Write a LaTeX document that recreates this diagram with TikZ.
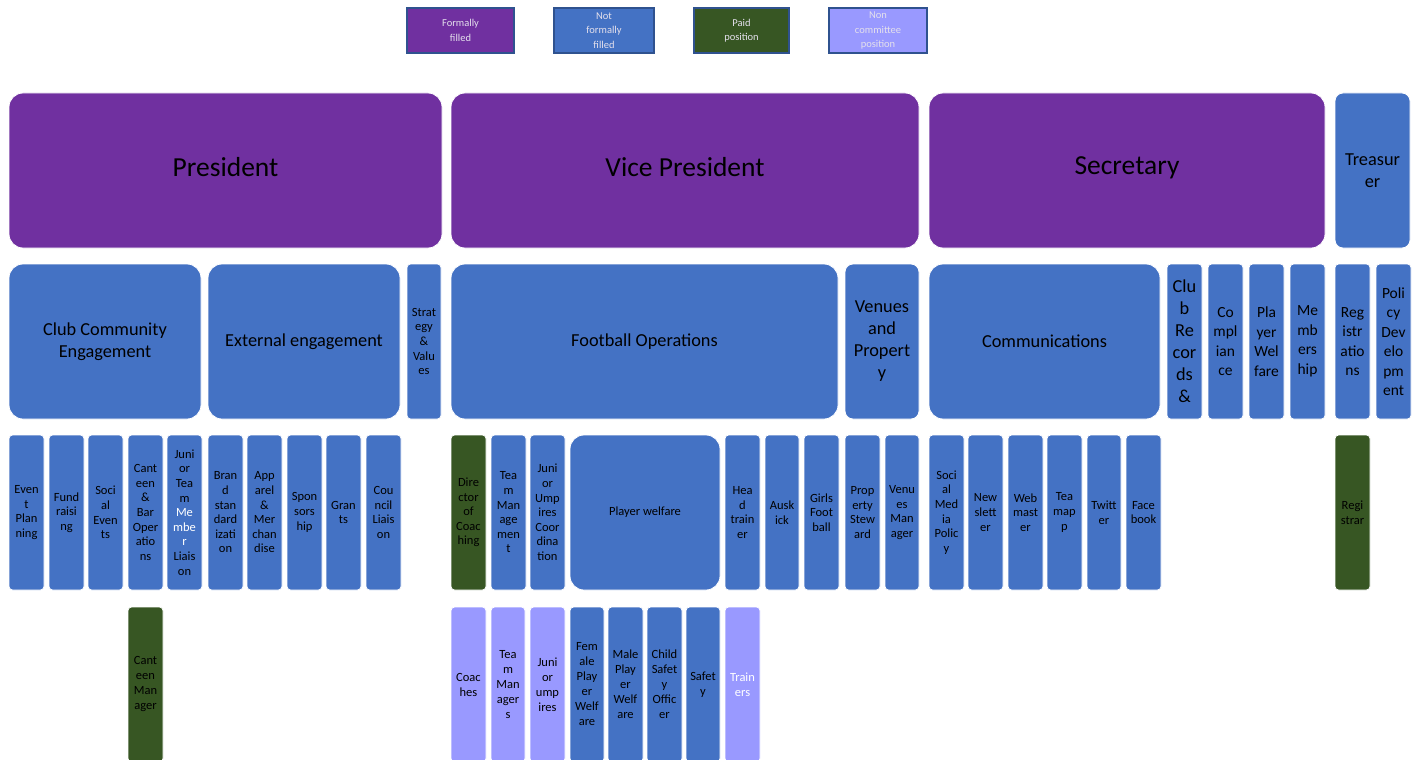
\documentclass[tikz,border=0pt]{standalone}
\usepackage{fontspec}
\setmainfont{Carlito}

\definecolor{cPurple}{HTML}{7030A0}
\definecolor{cBlue}{HTML}{4472C4}
\definecolor{cGreen}{HTML}{375623}
\definecolor{cLav}{HTML}{9999FF}
\definecolor{cEdge}{HTML}{2F528F}
\definecolor{cLegText}{HTML}{E4E0EC}

% box from (x1,y1) to (x2,y2): name, x1, y1, x2, y2, style, text
\newcommand\orgbox[7]{%
  \node[#6, minimum width={#4-#2}, minimum height={#5-#3}]
    (#1) at ({(#2+#4)/2},{(#3+#5)/2}) {#7};}
% title text sits a little above the box centre
\newcommand\titletext[1]{\raisebox{3pt}[\height][\depth]{#1}}

\tikzset{
  base/.style={rectangle, draw=white, line width=0.8pt, inner sep=0pt,
               align=center, text=black},
  pu/.style={base, fill=cPurple},
  bl/.style={base, fill=cBlue},
  gr/.style={base, fill=cGreen},
  lv/.style={base, fill=cLav},
  big/.style={rounded corners=14pt},
  mid/.style={rounded corners=8pt},
  sml/.style={rounded corners=3.5pt},
  fA/.style={font=\fontsize{27.5}{33}\selectfont},
  fB/.style={font=\fontsize{18.3}{22}\selectfont},
  fC/.style={font=\fontsize{15.5}{19.5}\selectfont},
  fD/.style={font=\fontsize{12.5}{14.6}\selectfont},
  fE/.style={font=\fontsize{12.5}{15}\selectfont},
  leg/.style={rectangle, draw=cEdge, line width=2pt, inner sep=0pt,
              align=center, text=cLegText,
              font=\fontsize{10.5}{14.5}\selectfont},
}

\begin{document}
\begin{tikzpicture}[x=1pt, y=-1pt]
\useasboundingbox (0,0) rectangle (1417,760);

% legend
\orgbox{kF}{407}{8}{514}{53}{leg, fill=cPurple}{Formally\\filled}
\orgbox{kN}{554}{8}{654}{53}{leg, fill=cBlue}{Not\\formally\\filled}
\orgbox{kP}{694}{8}{789}{53}{leg, fill=cGreen}{Paid\\position}
\orgbox{kC}{829}{8}{927}{53}{leg, fill=cLav}{Non\\committee\\position}

% office bearers
\orgbox{pres}{9}{93}{442}{248}{pu, big, fA}{\titletext{President}}
\orgbox{vp}{451}{93}{919}{248}{pu, big, fA}{\titletext{Vice President}}
\orgbox{sec}{929}{93}{1325}{248}{pu, big, fA}{\titletext{Secretary}}
\orgbox{tre}{1335}{93}{1410}{248}{bl, mid, fB}{Treasur\\er}

% portfolios
\orgbox{cce}{9}{264}{201}{419}{bl, big, fB}{Club Community\\Engagement}
\orgbox{ext}{208}{264}{400}{419}{bl, big, fB}{External engagement}
\orgbox{stv}{407}{264}{441}{419}{bl, sml, fD}{Strat\\egy\\\&\\Valu\\es}
\orgbox{fop}{451}{264}{838}{419}{bl, big, fB}{Football Operations}
\orgbox{vap}{845}{264}{919}{419}{bl, mid, fB}{Venues\\and\\Propert\\y}
\orgbox{cmm}{929}{264}{1160}{419}{bl, big, fB}{Communications}
\orgbox{crd}{1167}{264}{1202}{419}{bl, sml, fB}{Clu\\b\\Re\\cor\\ds\\\&}
\orgbox{cpl}{1208}{264}{1243}{419}{bl, sml, fC}{Co\\mpl\\ian\\ce}
\orgbox{pwf}{1249}{264}{1284}{419}{bl, sml, fC}{Pla\\yer\\Wel\\fare}
\orgbox{mbr}{1290}{264}{1325}{419}{bl, sml, fC}{Me\\mb\\ers\\hip}
\orgbox{rgs}{1335}{264}{1370}{419}{bl, sml, fC}{Reg\\istr\\atio\\ns}
\orgbox{pdv}{1376}{264}{1411}{419}{bl, sml, fC}{Poli\\cy\\Dev\\elo\\pm\\ent}

% roles
\orgbox{evp}{9}{435}{44}{590}{bl, sml, fD}{Even\\t\\Plan\\ning}
\orgbox{fnd}{49}{435}{84}{590}{bl, sml, fD}{Fund\\raisi\\ng}
\orgbox{soc}{88}{435}{123}{590}{bl, sml, fD}{Soci\\al\\Even\\ts}
\orgbox{cbo}{128}{435}{163}{590}{bl, sml, fD}{Cant\\een\\\&\\Bar\\Oper\\atio\\ns}
\orgbox{jtm}{167}{435}{202}{590}{bl, sml, fD}{Juni\\or\\Tea\\m\\\textcolor{white}{Me}\\\textcolor{white}{mbe}\\\textcolor{white}{r}\\Liais\\on}
\orgbox{bst}{208}{435}{243}{590}{bl, sml, fD}{Bran\\d\\stan\\dard\\izati\\on}
\orgbox{apm}{247}{435}{282}{590}{bl, sml, fD}{App\\arel\\\&\\Mer\\chan\\dise}
\orgbox{spn}{287}{435}{322}{590}{bl, sml, fD}{Spon\\sors\\hip}
\orgbox{grn}{326}{435}{361}{590}{bl, sml, fD}{Gran\\ts}
\orgbox{cnl}{366}{435}{401}{590}{bl, sml, fD}{Cou\\ncil\\Liais\\on}

\orgbox{doc}{451}{435}{486}{590}{gr, sml, fD}{Dire\\ctor\\of\\Coac\\hing}
\orgbox{tmg}{491}{435}{526}{590}{bl, sml, fD}{Tea\\m\\Man\\age\\men\\t}
\orgbox{juc}{530}{435}{565}{590}{bl, sml, fD}{Juni\\or\\Ump\\ires\\Coor\\dina\\tion}
\orgbox{plw}{570}{435}{720}{590}{bl, big, fD}{Player welfare}
\orgbox{htr}{725}{435}{760}{590}{bl, sml, fD}{Hea\\d\\train\\er}
\orgbox{ask}{765}{435}{799}{590}{bl, sml, fD}{Ausk\\ick}
\orgbox{gfb}{804}{435}{839}{590}{bl, sml, fD}{Girls\\Foot\\ball}
\orgbox{pst}{845}{435}{880}{590}{bl, sml, fD}{Prop\\erty\\Stew\\ard}
\orgbox{vmg}{885}{435}{919}{590}{bl, sml, fD}{Venu\\es\\Man\\ager}
\orgbox{smp}{929}{435}{964}{590}{bl, sml, fD}{Soci\\al\\Med\\ia\\Polic\\y}
\orgbox{nws}{968}{435}{1003}{590}{bl, sml, fD}{New\\slett\\er}
\orgbox{web}{1008}{435}{1043}{590}{bl, sml, fD}{Web\\mast\\er}
\orgbox{tmp}{1047}{435}{1082}{590}{bl, sml, fD}{Tea\\map\\p}
\orgbox{twt}{1087}{435}{1121}{590}{bl, sml, fD}{Twitt\\er}
\orgbox{fbk}{1126}{435}{1161}{590}{bl, sml, fD}{Face\\book}
\orgbox{rgr}{1335}{435}{1370}{590}{gr, sml, fD}{Regi\\strar}

% helpers
\orgbox{cmg}{128}{607}{163}{762}{gr, sml, fE}{Cant\\een\\Man\\ager}
\orgbox{cch}{451}{607}{486}{762}{lv, sml, fE}{Coac\\hes}
\orgbox{tms}{491}{607}{525}{762}{lv, sml, fE}{Tea\\m\\Man\\ager\\s}
\orgbox{jum}{530}{607}{565}{762}{lv, sml, fE}{Juni\\or\\ump\\ires}
\orgbox{fpw}{570}{607}{604}{762}{bl, sml, fE}{Fem\\ale\\Play\\er\\Welf\\are}
\orgbox{mpw}{608}{607}{643}{762}{bl, sml, fE}{Male\\Play\\er\\Welf\\are}
\orgbox{cso}{647}{607}{682}{762}{bl, sml, fE}{Child\\Safet\\y\\Offic\\er}
\orgbox{sft}{686}{607}{720}{762}{bl, sml, fE}{Safet\\y}
\orgbox{trn}{725}{607}{760}{762}{lv, sml, fE, text=white}{Train\\ers}
\end{tikzpicture}
\end{document}
